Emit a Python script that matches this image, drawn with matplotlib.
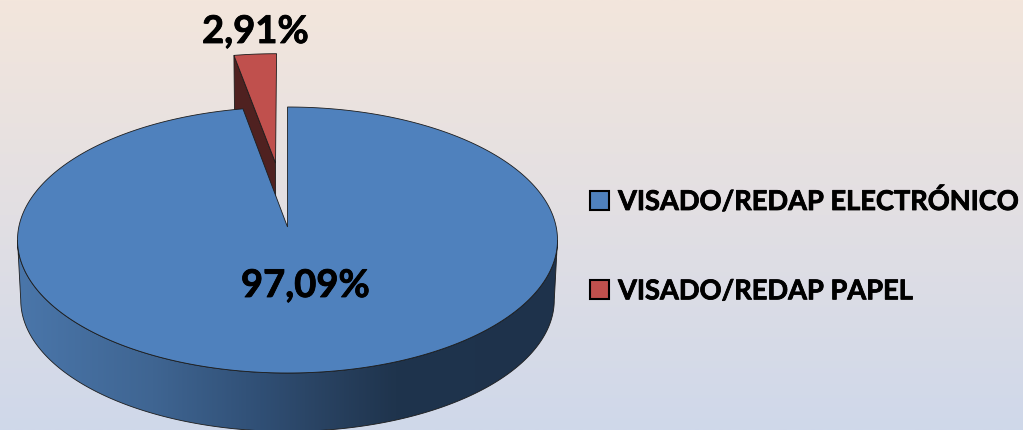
import matplotlib
matplotlib.use('Agg')
import matplotlib.pyplot as plt
import matplotlib.patheffects as pe
import numpy as np
from matplotlib.colors import LinearSegmentedColormap
from matplotlib.patches import Patch, Polygon

categories = ['VISADO/REDAP ELECTRÓNICO', 'VISADO/REDAP PAPEL']
values = [97.09, 2.91]

# pie geometry in picture pixels
cx, cy = 287.5, 240
rx, ry = 270, 133
depth = 60
k = 0.098       # perspective shift of the centre
explode = 0.512

blue = '#4f81bd'
red = '#c0504d'
red_dark = '#4f2120'
line = '#1c1c1c'


def project(u, v, d=0):
    # disc coords -> screen, circle stays an ellipse but the centre moves
    w = 1 + k * v
    un = u * np.sqrt(1 - k ** 2) / w
    vn = (v + k) / w
    s = 1 - 0.012 * d
    return cx + rx * s * un, cy + depth * d - ry * s * vn


def slice_xy(a1, a2, off=(0, 0), d=0):
    t = np.radians(np.linspace(a1, a2, 300))
    u = np.r_[0, np.sin(t)] + off[0]
    v = np.r_[0, np.cos(t)] + off[1]
    return np.column_stack(project(u, v, d))


split = 360 * values[0] / sum(values)
mid = np.radians((split + 360) / 2)
off = (explode * np.sin(mid), explode * np.cos(mid))

fig = plt.figure(figsize=(10.23, 4.3), dpi=100)
ax = fig.add_axes([0, 0, 1, 1])

# background
bg = LinearSegmentedColormap.from_list('bg', ['#f3e6dc', '#e2dfe3', '#cfd8ea'])
ax.imshow(np.linspace(0, 1, 256).reshape(-1, 1), cmap=bg, extent=(0, 1023, 430, 0), aspect='auto', zorder=0)

# red slice: cut wall first then the top
tip_top = project(off[0], off[1], 0)
tip_low = project(off[0], off[1], 1)
t = np.radians(split)
cor_top = project(np.sin(t) + off[0], np.cos(t) + off[1], 0)
cor_low = project(np.sin(t) + off[0], np.cos(t) + off[1], 1)
ax.add_patch(Polygon([tip_top, cor_top, cor_low, tip_low], fc=red_dark, ec=line, lw=0.6, zorder=2))
ax.add_patch(Polygon(slice_xy(split, 360, off), fc=red, ec=line, lw=0.6, zorder=3))

# blue side wall with gradient
a0 = np.degrees(np.arccos(-k))
t = np.radians(np.linspace(a0, 360 - a0, 300))
up = np.column_stack(project(np.sin(t), np.cos(t), 0))
low = np.column_stack(project(np.sin(t), np.cos(t), 1))
wall = Polygon(np.vstack([up, low[::-1]]), fc='none', ec=line, lw=0.6, zorder=5)
ax.add_patch(wall)
side = LinearSegmentedColormap.from_list('side', [(0, '#4a76aa'), (0.25, '#3f6592'), (0.45, '#304f75'),
                                                  (0.55, '#2a4464'), (0.7, '#1f344d'), (1, '#1e324b')])
im = ax.imshow(np.linspace(1, 0, 256).reshape(1, -1), cmap=side, extent=(557, 18, 432, 240), aspect='auto', zorder=4)
im.set_clip_path(wall)

# blue top
ax.add_patch(Polygon(slice_xy(0, split), fc=blue, ec=line, lw=0.6, zorder=6))

ax.set_xlim(0, 1023)
ax.set_ylim(430, 0)
ax.axis('off')

# a bit heavier than plain bold
heavy = [pe.withStroke(linewidth=0.6, foreground='black')]

# percent labels
labels = [f'{v:.2f}%'.replace('.', ',') for v in values]
ax.text(305.5, 286, labels[0], fontsize=27.5, fontweight='bold', family='Lato', ha='center', va='center',
        color='black', zorder=8, path_effects=heavy)
ax.text(255.5, 32, labels[1], fontsize=27.5, fontweight='bold', family='Lato', ha='center', va='center',
        color='black', zorder=8, path_effects=heavy)

handles = [Patch(fc=blue, ec='black', lw=1.5), Patch(fc=red, ec='black', lw=1.5)]
leg = ax.legend(handles, categories, loc='upper left', bbox_to_anchor=(590 / 1023, 1 - 188 / 430), frameon=False,
                prop={'family': 'Lato', 'weight': 'bold', 'size': 19.6}, handlelength=0.7, handleheight=0.7,
                handletextpad=0.33, labelspacing=2.4, borderpad=0, borderaxespad=0)
for txt in leg.get_texts():
    txt.set_path_effects(heavy)

plt.savefig('out.png', dpi=100)
